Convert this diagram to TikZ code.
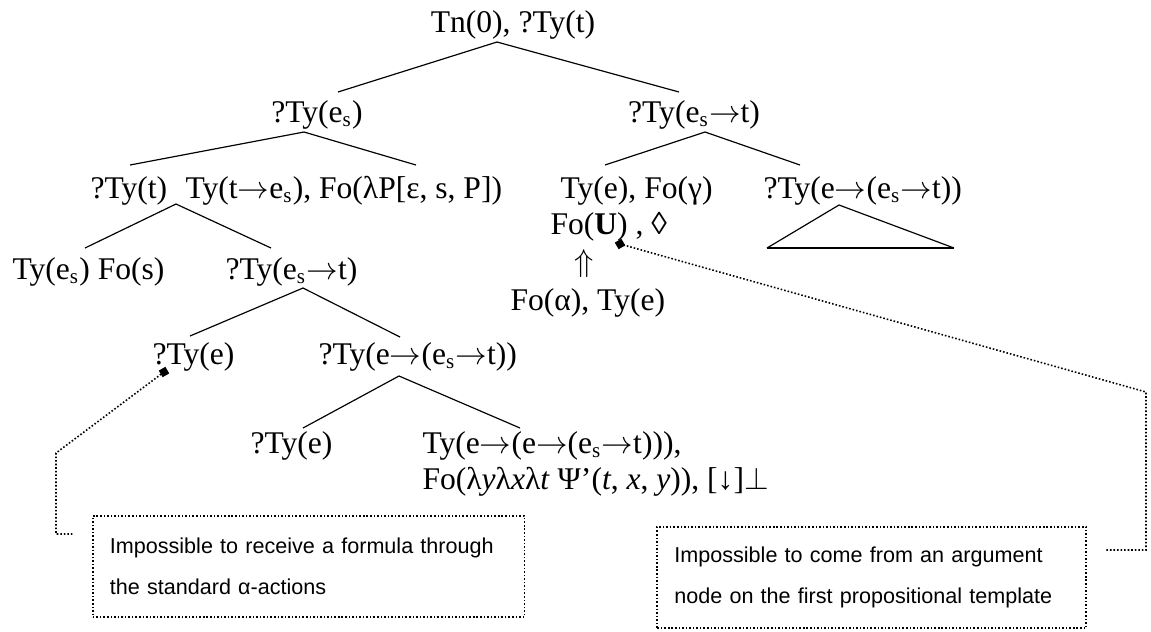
\documentclass[tikz,border=0pt]{standalone}
\usepackage{fontspec}
\setmainfont{Liberation Serif}
\setsansfont{Liberation Sans}
\usetikzlibrary{positioning}
\newcommand{\tyarr}{\ensuremath{{\rightarrow}}}

\begin{document}
\begin{tikzpicture}[
  x=0.38pt, y=-0.38pt,
  font=\fontsize{12}{13.8}\selectfont,
  lbl/.style={inner sep=0pt, anchor=base west},
  edge/.style={line width=0.45pt},
  dots/.style={line width=0.6pt, dash pattern=on 0.6pt off 0.75pt},
  note/.style={dots, draw, align=left, anchor=west, inner xsep=6.5pt,
    font=\sffamily\fontsize{8.2}{15.6}\selectfont, minimum height=38.5pt},
  marker/.style={fill=black, inner sep=0pt, minimum size=2.9pt, rotate=30},
  ]
  \useasboundingbox (0,0) rectangle (1151,631);

  % node labels
  \node[lbl, anchor=base] (root) at (513,32) {Tn(0), ?Ty(t)};
  \node[lbl, anchor=base] (subj) at (317,122) {?Ty(e\textsubscript{s})};
  \node[lbl, anchor=base] (pred) at (694,122) {?Ty(e\textsubscript{s}\tyarr t)};
  \node[lbl] (qt) at (90,198) {?Ty(t)};
  \node[lbl] (det) at (185,198) {Ty(t\tyarr e\textsubscript{s}), Fo(λP[ε, s, P])};
  \node[lbl] (argn) at (560,198) {Ty(e), Fo(γ)};
  \node[lbl] (qfun) at (763,198) {?Ty(e\tyarr(e\textsubscript{s}\tyarr t))};
  \node[lbl] (fou) at (550,234) {Fo(\textbf{U}) , ◊};
  \node[lbl, anchor=base] (up) at (584,271) {$\Uparrow$};
  \node[lbl] (foa) at (510,310) {Fo(α), Ty(e)};
  \node[lbl] (sit) at (12,279) {Ty(e\textsubscript{s}) Fo(s)};
  \node[lbl] (qpred) at (225,279) {?Ty(e\textsubscript{s}\tyarr t)};
  \node[lbl] (qe1) at (152,364) {?Ty(e)};
  \node[lbl] (qpred2) at (318,364) {?Ty(e\tyarr(e\textsubscript{s}\tyarr t))};
  \node[lbl] (qe2) at (250,453) {?Ty(e)};
  \node[lbl] (verb) at (422,453) {Ty(e\tyarr(e\tyarr(e\textsubscript{s}\tyarr t))),};
  \node[lbl] (verbfo) at (422,489) {Fo(λ\textit{y}λ\textit{x}λ\textit{t} Ψ’(\textit{t}, \textit{x}, \textit{y})), [↓]$\perp$};

  % branching points
  \coordinate (r0) at (497,42);
  \coordinate (r1) at (338,92);   \coordinate (r2) at (679,92);
  \coordinate (s0) at (304,132);
  \coordinate (s1) at (130,165);  \coordinate (s2) at (416,165);
  \coordinate (p0) at (705,132);
  \coordinate (p1) at (605,165);  \coordinate (p2) at (800,165);
  \coordinate (d0) at (176,204);
  \coordinate (d1) at (85,248);   \coordinate (d2) at (271,248);
  \coordinate (q0) at (303,288);
  \coordinate (q1) at (190,336);  \coordinate (q2) at (400,337);
  \coordinate (v0) at (399,376);
  \coordinate (v1) at (303,428);  \coordinate (v2) at (520,428);
  \coordinate (t0) at (839,205);
  \coordinate (t1) at (767,248);  \coordinate (t2) at (954,248);

  \draw[edge] (r1) -- (r0) -- (r2);
  \draw[edge] (s1) -- (s0) -- (s2);
  \draw[edge] (p1) -- (p0) -- (p2);
  \draw[edge] (d1) -- (d0) -- (d2);
  \draw[edge] (q1) -- (q0) -- (q2);
  \draw[edge] (v1) -- (v0) -- (v2);
  \draw[edge] (t1) -- (t0) -- (t2);
  \draw[line width=0.9pt] (t1) -- (t2);

  % notes
  \node[note, text width=151pt] (note1) at (92,566.5)
    {Impossible to receive a formula through\\the standard α-actions};
  \node[note, anchor=east, text width=150pt] (note2) at (1087,577.5)
    {Impossible to come from an argument\\node on the first propositional template};

  \node[marker] (m1) at (164,372) {};
  \node[marker] (m2) at (620,244) {};
  \coordinate (lc1) at (56,453);
  \coordinate (lc2) at (56,534);
  \coordinate (lc3) at (73,534);
  \coordinate (rc1) at (1146,392);
  \coordinate (rc2) at (1146,550);
  \coordinate (rc3) at (1106,550);
  \draw[dots] (m1.center) -- (lc1) -- (lc2) -- (lc3);
  \draw[dots] (m2.center) -- (rc1) -- (rc2) -- (rc3);
\end{tikzpicture}
\end{document}
